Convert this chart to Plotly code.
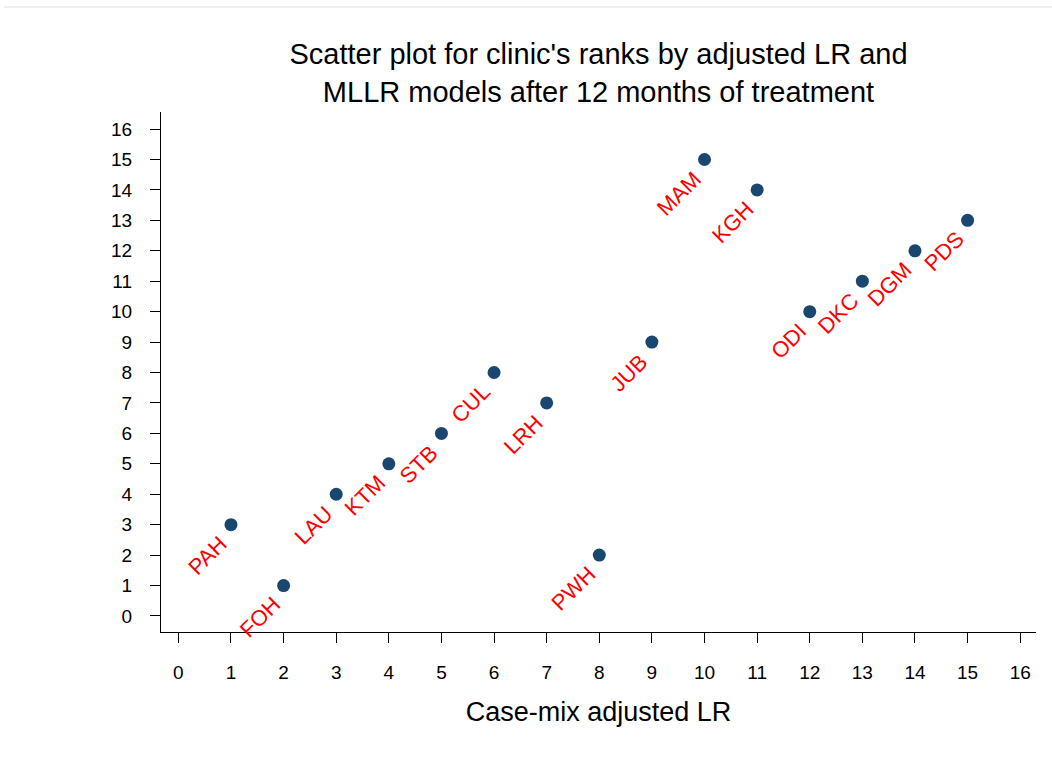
import plotly.graph_objects as go

# Clinic ranks under the two models
clinics = ["PAH", "FOH", "LAU", "KTM", "STB", "CUL", "LRH", "PWH",
           "JUB", "MAM", "KGH", "ODI", "DKC", "DGM", "PDS"]
lr_rank = [1, 2, 3, 4, 5, 6, 7, 8, 9, 10, 11, 12, 13, 14, 15]
mllr_rank = [3, 1, 4, 5, 6, 8, 7, 2, 9, 15, 14, 10, 11, 12, 13]
tick_vals = list(range(0, 17))

FONT = "Liberation Sans, Arial, sans-serif"

fig = go.Figure()
fig.add_trace(go.Scatter(
    x=lr_rank, y=mllr_rank, mode="markers",
    marker=dict(size=13, color="#1a476f"),
    hoverinfo="x+y",
))

# Rotated red clinic labels below-left of each point
for name, xv, yv in zip(clinics, lr_rank, mllr_rank):
    fig.add_annotation(
        x=xv, y=yv, text=name, showarrow=False, textangle=-45,
        xanchor="right", yanchor="top", xshift=4, yshift=-4,
        font=dict(family=FONT, size=22, color="#ff0000"),
    )

axis_common = dict(
    showline=True, linecolor="black", linewidth=1.3,
    ticks="outside", ticklen=10, tickwidth=1.3, tickcolor="black",
    showgrid=False, zeroline=False,
    tickmode="array", tickvals=tick_vals,
    tickfont=dict(family=FONT, size=19, color="black"),
)

fig.update_xaxes(range=[-0.33, 16.3], ticklabelstandoff=13,
                 title=dict(text="Case-mix adjusted LR",
                            font=dict(family=FONT, size=27, color="black"),
                            standoff=20),
                 **axis_common)
fig.update_yaxes(range=[-0.526, 16.56], ticklabelstandoff=14, **axis_common)

# Thin grey rule along the top of the page
fig.add_shape(type="line", xref="paper", yref="paper",
              x0=-0.1794, x1=1.02, y0=1.2019, y1=1.2019,
              line=dict(color="#e8e8e8", width=1.5))

fig.update_layout(
    width=1052, height=770,
    margin=dict(l=161, r=16, t=112, b=138),
    paper_bgcolor="white", plot_bgcolor="white",
    showlegend=False,
    title=dict(
        text="Scatter plot for clinic's ranks by adjusted LR and<br>MLLR models after 12 months of treatment",
        font=dict(family=FONT, size=29, color="black"),
        x=0.5, xref="paper", xanchor="center",
        y=1 - 64 / 770, yref="container", yanchor="top",
    ),
)

fig.write_html("out.html")
